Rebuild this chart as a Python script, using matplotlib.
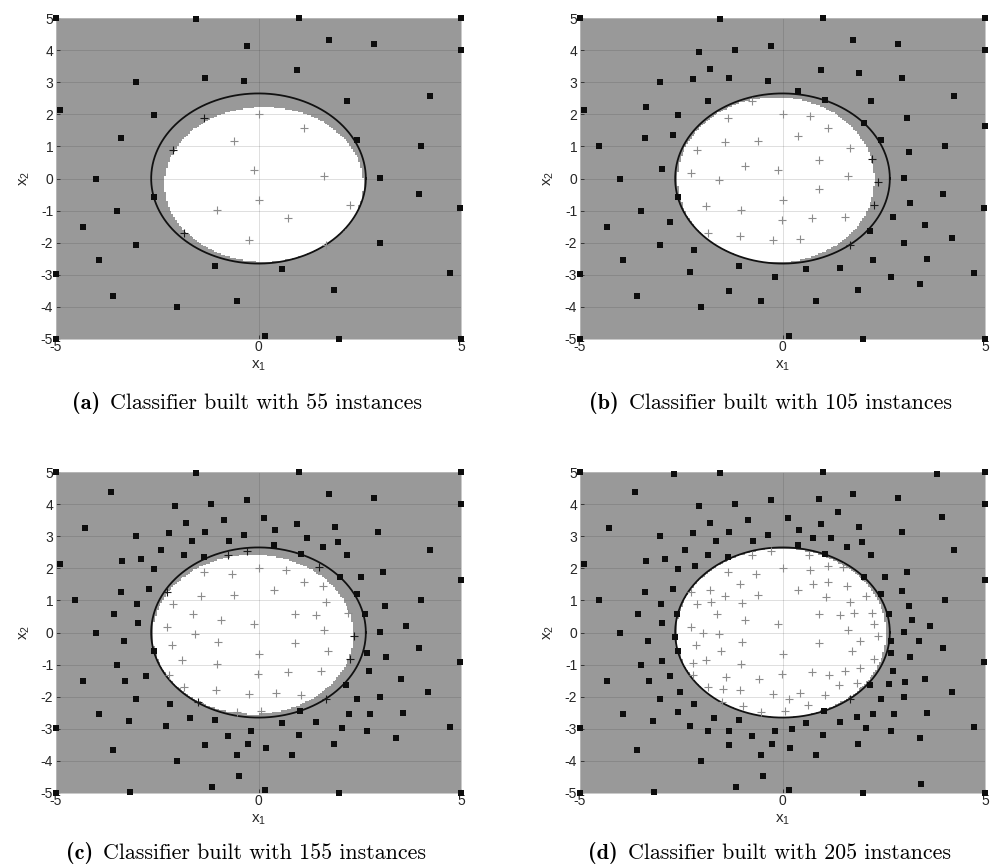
import numpy as np
import matplotlib
matplotlib.use('Agg')
import matplotlib.pyplot as plt
from matplotlib.colors import ListedColormap

plt.rcParams['axes.unicode_minus'] = False

# ---------------- data ----------------
# negative instances (black squares) added in each stage
out_a_x = [-5, -1.55, 1.0, 5, 1.75, 2.86, -0.29, 5, 0.96, -1.31, -3.03, -0.35, 4.23, 2.19, -4.9, -2.59,
           -3.4, 2.44, 4.0, -4.02, 3.0, -2.59, 3.96, -3.5, 4.98, -4.34, -3.03, 3.0, -3.93, -1.07, 0.57,
           -5, 4.73, 1.87, -3.59, -0.53, -2.01, 0.16, -5, 1.98, 5]
out_a_y = [5, 4.96, 5, 5, 4.32, 4.2, 4.14, 4.0, 3.38, 3.14, 3.0, 3.04, 2.56, 2.40, 2.13, 1.98,
           1.26, 1.19, 1.0, 0.0, 0.03, -0.58, -0.47, -1.02, -0.93, -1.52, -2.07, -2.0, -2.55, -2.73, -2.82,
           -2.99, -2.94, -3.46, -3.67, -3.81, -3.99, -4.92, -5, -5, -5]
out_b_x = [-2.06, -1.18, -1.78, 1.89, -2.22, 2.94, 0.39, -1.83, 1.04, -3.37, 3.07, 5, 2.01, -2.71, -4.52,
           3.13, -2.98, 3.15, -2.77, 2.73, 3.51, 2.17, -2.19, 4.19, 2.24, 3.56, 1.43, -2.29, -0.19, 2.69,
           3.4, -1.32, 0.83]
out_b_y = [3.94, 4.0, 3.41, 3.28, 3.1, 3.13, 2.72, 2.40, 2.46, 2.23, 1.9, 1.64, 1.73, 1.34, 1.02,
           0.83, 0.3, -0.75, -1.36, -1.21, -1.46, -1.62, -2.23, -1.85, -2.53, -2.5, -2.79, -2.91, -3.08, -3.08,
           -3.29, -3.49, -3.81]
out_c_x = [-3.63, -4.28, -0.84, 0.13, 0.4, -1.64, -0.72, 1.19, 1.6, 1.96, -2.41, -1.35, -2.89, 2.53,
           -2.99, -3.56, 2.64, 3.63, -3.33, 2.67, -3.29, 2.44, 2.75, 1.03, -3.19, -1.69, 2.07, -0.76, 1.0,
           -0.26, 0.18, -0.48, -1.14, -3.17]
out_c_y = [4.39, 3.25, 3.51, 3.58, 3.19, 2.85, 2.85, 2.93, 2.67, 2.82, 2.56, 2.36, 2.3, 1.72,
           0.88, 0.59, 0.59, 0.19, -0.25, -0.65, -1.51, -2.06, -2.53, -2.46, -2.75, -2.66, -2.96, -3.22, -3.19,
           -3.48, -3.6, -4.47, -4.8, -4.97]
out_d_x = [-2.68, 3.82, 0.9, 1.37, 3.93, 0.76, -2.16, 2.94, -2.61, 3.19, -2.66, 2.69, 3.37, -2.98, 2.64,
           3.03, -2.52, -2.57, 1.83, -1.84, -1.33, 0.23, 3.42]
out_d_y = [4.95, 4.95, 4.16, 3.75, 3.61, 2.93, 2.08, 1.29, 0.59, 0.38, -0.14, -0.25, -0.25, -0.89, -1.59,
           -1.53, -1.85, -2.49, -2.64, -3.08, -3.06, -3.01, -4.71]

# positive instances (plus signs) added in each stage
in_a_x = [0, 1.13, -0.6, -0.1, 1.61, 0, -1.02, 0.72, 2.26, -0.23, 1.66, -1.34, -2.1, -1.85]
in_a_y = [2.01, 1.58, 1.17, 0.26, 0.09, -0.66, -0.99, -1.23, -0.83, -1.92, -2.07, 1.89, 0.89, -1.70]
in_b_x = [-0.75, 0.68, 0.39, -1.42, 1.67, -0.92, 0.9, -2.26, -1.57, 0.9, -1.88, -0.02, 1.54, -1.04, 0.44,
          2.21, 2.35]
in_b_y = [2.4, 1.96, 1.32, 1.14, 0.95, 0.39, 0.59, 0.18, -0.06, -0.32, -0.87, -1.3, -1.19, -1.8, -1.89,
          0.62, -0.12]
in_c_x = [-0.29, 1.5, -0.65, 1.6, -2.25, -1.62, 1.41, -2.13, -1.0, 1.72, -2.2, 1.04, -1.49, -0.52, 0.06]
in_c_y = [2.54, 2.05, 1.82, 1.44, 1.27, 0.59, 0.54, -0.38, -0.3, -0.59, -1.33, -1.96, -2.16, -2.49, -2.43]
in_d_x = [0.66, 1.13, 0.76, -1.04, -1.79, 2.06, 1.07, -1.77, -1.0, 1.76, 2.25, -1.96, 1.92, -1.52, -2.22,
          -1.4, -0.59, 1.14, 1.92, 1.4, 1.83, -1.46, 0.17, -0.97, 0.63]
in_d_y = [2.4, 2.08, 1.5, 1.51, 1.33, 1.13, 1.11, 0.94, 0.91, 0.62, 0.28, -0.03, -0.25, -0.57, -0.94,
          -1.38, -1.44, -1.33, -1.1, -1.64, -1.56, -1.76, -2.07, -2.29, -2.26]

# learned positive region (approximate ellipse) for each classifier: centre x, centre y, half-width, half-height
region_cx = [0.135, -0.16, -0.135, -0.03]
region_cy = [-0.18, -0.04, -0.06, -0.015]
region_ax = [2.465, 2.44, 2.485, 2.60]
region_ay = [2.42, 2.58, 2.49, 2.635]

true_radius = 2.65
labels = ['(a)', '(b)', '(c)', '(d)']
instances = [55, 105, 155, 205]
xticks = [-5, 0, 5]
yticks = [-5, -4, -3, -2, -1, 0, 1, 2, 3, 4, 5]

# ---------------- figure ----------------
W, H = 993, 866
fig = plt.figure(figsize=(W / 100, H / 100), dpi=100)


def rect(l, r, t, b):
    return [l / W, 1 - b / H, (r - l) / W, (b - t) / H]


rects = [rect(56, 461, 18, 339), rect(580, 985, 18, 339),
         rect(56, 461, 472, 793), rect(580, 985, 472, 793)]
cap_pos = [(110, 409), (629, 409), (103, 859), (628, 859)]

outs_x = [out_a_x, out_b_x, out_c_x, out_d_x]
outs_y = [out_a_y, out_b_y, out_c_y, out_d_y]
ins_x = [in_a_x, in_b_x, in_c_x, in_d_x]
ins_y = [in_a_y, in_b_y, in_c_y, in_d_y]

TXT = '#262626'
GRAY_BG = '#999999'
cmap = ListedColormap([GRAY_BG, 'white'])
g = np.linspace(-5, 5, 221)
GX, GY = np.meshgrid(g, g)
theta = np.linspace(0, 2 * np.pi, 400)

for k in range(4):
    ax = fig.add_axes(rects[k])
    cx, cy, a, b = region_cx[k], region_cy[k], region_ax[k], region_ay[k]
    mask = (((GX - cx) / a) ** 2 + ((GY - cy) / b) ** 2 <= 1).astype(float)
    ax.imshow(mask, extent=[-5, 5, -5, 5], origin='lower', cmap=cmap, vmin=0, vmax=1,
              interpolation='nearest', aspect='auto', zorder=0)
    ax.grid(True, color=TXT, alpha=0.15, lw=0.7)

    ox = np.concatenate(outs_x[:k + 1])
    oy = np.concatenate(outs_y[:k + 1])
    px = np.concatenate(ins_x[:k + 1])
    py = np.concatenate(ins_y[:k + 1])
    inside = ((px - cx) / a) ** 2 + ((py - cy) / b) ** 2 <= 1

    ax.plot(true_radius * np.cos(theta), true_radius * np.sin(theta), color='#111111', lw=1.3, zorder=3)
    ax.plot(px[inside], py[inside], '+', color='#8c8c8c', ms=5.5, mew=0.8, zorder=4)
    ax.plot(px[~inside], py[~inside], '+', color='#1a1a1a', ms=5.5, mew=0.8, zorder=4)
    ax.plot(ox, oy, 's', color='#0d0d0d', ms=3.8, mew=0, zorder=5, clip_on=False)

    ax.set_xlim(-5, 5)
    ax.set_ylim(-5, 5)
    ax.set_xticks(xticks)
    ax.set_yticks(yticks)
    ax.tick_params(direction='in', length=3, width=0.6, colors=TXT, labelsize=10)
    ax.tick_params(axis='x', pad=1)
    ax.tick_params(axis='y', pad=2)
    for lab in ax.get_xticklabels() + ax.get_yticklabels():
        lab.set_fontfamily('Liberation Sans')
    for s in ax.spines.values():
        s.set_color('#c0c0c0')
        s.set_linewidth(0.6)
    ax.set_xlabel(r'$\mathregular{x_1}$', fontsize=11, color=TXT, labelpad=3, fontfamily='Liberation Sans')
    ax.set_ylabel(r'$\mathregular{x_2}$', fontsize=11, color=TXT, labelpad=6, fontfamily='Liberation Sans')

    x0, y0 = cap_pos[k]
    fig.text((x0 - 10) / W, 1 - y0 / H, labels[k], fontfamily='cmb10', fontsize=16, ha='right', va='baseline')
    fig.text(x0 / W, 1 - y0 / H, 'Classifier built with %d instances' % instances[k],
             fontfamily='cmr10', fontsize=15.8, ha='left', va='baseline')

fig.savefig('out.png', dpi=100)
